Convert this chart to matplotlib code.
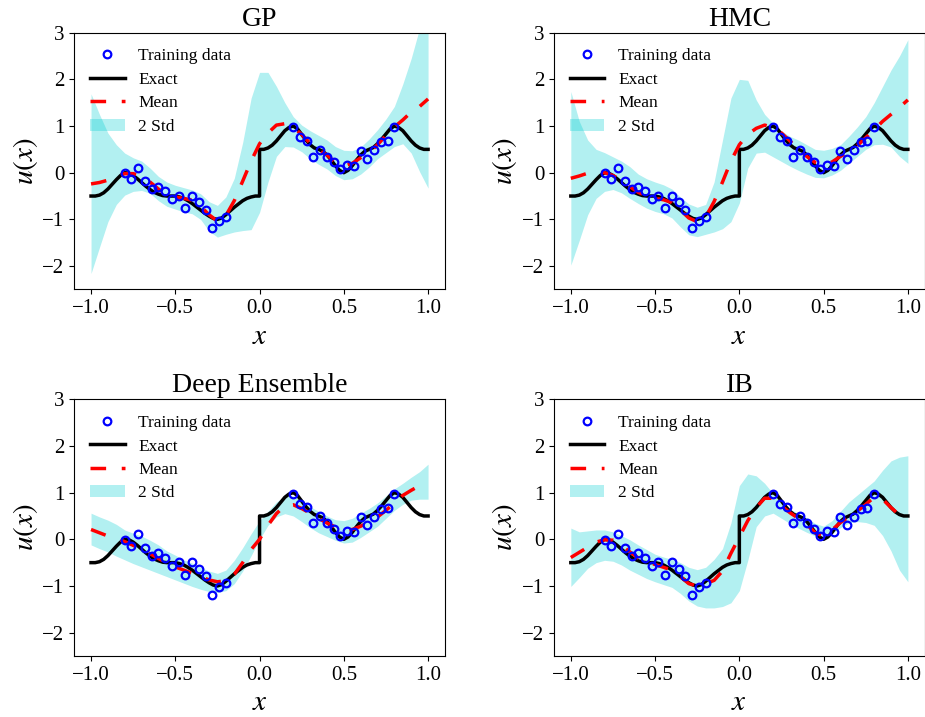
import matplotlib
matplotlib.use("Agg")
import matplotlib.pyplot as plt
import numpy as np

plt.rcParams["font.family"] = ["Liberation Serif", "DejaVu Serif"]
plt.rcParams["mathtext.fontset"] = "stix"

# ── training data (shared) ───────────────────────────────────────────────
x_train = [-0.80, -0.76, -0.72, -0.68, -0.64, -0.60, -0.56, -0.52,
           -0.48, -0.44, -0.40, -0.36, -0.32, -0.28, -0.24, -0.20,
           0.20, 0.24, 0.28, 0.32, 0.36, 0.40, 0.44, 0.48,
           0.52, 0.56, 0.60, 0.64, 0.68, 0.72, 0.76, 0.80]
y_train = [-0.01, -0.14, 0.11, -0.18, -0.35, -0.30, -0.39, -0.57,
           -0.49, -0.76, -0.49, -0.63, -0.79, -1.19, -1.03, -0.94,
           0.97, 0.76, 0.69, 0.34, 0.49, 0.34, 0.22, 0.07,
           0.17, 0.15, 0.47, 0.30, 0.48, 0.66, 0.67, 0.97]

# ── exact solution ──────────────────────────────────────────────────────
x_exact = [-1.0, -0.975, -0.95, -0.925, -0.9, -0.875, -0.85, -0.825, -0.8,
           -0.775, -0.75, -0.725, -0.7, -0.675, -0.65, -0.625, -0.6, -0.575,
           -0.55, -0.525, -0.5, -0.475, -0.45, -0.425, -0.4, -0.375, -0.35,
           -0.325, -0.3, -0.275, -0.25, -0.225, -0.2, -0.175, -0.15, -0.125,
           -0.1, -0.075, -0.05, -0.025, 0.0,
           0.0, 0.025, 0.05, 0.075, 0.1, 0.125, 0.15, 0.175, 0.2, 0.225,
           0.25, 0.275, 0.3, 0.325, 0.35, 0.375, 0.4, 0.425, 0.45, 0.475,
           0.5, 0.525, 0.55, 0.575, 0.6, 0.625, 0.65, 0.675, 0.7, 0.725,
           0.75, 0.775, 0.8, 0.825, 0.85, 0.875, 0.9, 0.925, 0.95, 0.975, 1.0]
u_exact = [-0.5, -0.5, -0.48, -0.43, -0.35, -0.25, -0.15, -0.06, 0.0,
           -0.01, -0.06, -0.13, -0.21, -0.29, -0.36, -0.42, -0.46, -0.49,
           -0.5, -0.5, -0.5, -0.52, -0.55, -0.6, -0.66, -0.73, -0.8,
           -0.87, -0.93, -0.98, -1.0, -0.97, -0.9, -0.82, -0.74, -0.67,
           -0.6, -0.55, -0.52, -0.5, -0.5,
           0.5, 0.5, 0.53, 0.59, 0.68, 0.79, 0.9, 0.97, 1.0, 0.94,
           0.82, 0.7, 0.6, 0.53, 0.5, 0.46, 0.38, 0.27, 0.15, 0.05,
           0.0, 0.05, 0.15, 0.27, 0.38, 0.46, 0.5, 0.54, 0.62, 0.72,
           0.83, 0.94, 1.0, 0.97, 0.9, 0.79, 0.68, 0.59, 0.53, 0.5, 0.5]

# ── predictions, sampled every 0.05 ─────────────────────────────────────
x_pred = [-1.0, -0.95, -0.9, -0.85, -0.8, -0.75, -0.7, -0.65, -0.6, -0.55,
          -0.5, -0.45, -0.4, -0.35, -0.3, -0.25, -0.2, -0.15, -0.1, -0.05,
          0.0, 0.05, 0.1, 0.15, 0.2, 0.25, 0.3, 0.35, 0.4, 0.45,
          0.5, 0.55, 0.6, 0.65, 0.7, 0.75, 0.8, 0.85, 0.9, 0.95, 1.0]

gp_mean = [-0.24, -0.21, -0.16, -0.08, -0.02, -0.02, -0.07, -0.2, -0.35, -0.47,
           -0.52, -0.55, -0.59, -0.72, -0.9, -1.04, -0.92, -0.6, -0.18, 0.25,
           0.62, 0.85, 1.02, 1.05, 0.97, 0.82, 0.63, 0.48, 0.38, 0.22,
           0.14, 0.2, 0.32, 0.43, 0.6, 0.8, 0.98, 1.13, 1.3, 1.42, 1.58]
gp_upper = [1.69, 1.25, 0.85, 0.6, 0.42, 0.32, 0.25, 0.1, -0.08, -0.2,
            -0.27, -0.32, -0.37, -0.45, -0.62, -0.7, -0.52, -0.12, 0.65, 1.6,
            2.15, 2.15, 1.85, 1.5, 1.2, 1.02, 0.9, 0.8, 0.7, 0.56,
            0.48, 0.47, 0.55, 0.72, 0.92, 1.15, 1.42, 1.9, 2.45, 3.1, 3.6]
gp_lower = [-2.16, -1.6, -1.05, -0.68, -0.48, -0.4, -0.38, -0.44, -0.6, -0.72,
            -0.78, -0.84, -0.88, -1.0, -1.25, -1.38, -1.32, -1.27, -1.24, -1.22,
            -0.85, -0.2, 0.35, 0.56, 0.55, 0.45, 0.3, 0.18, 0.08, -0.06,
            -0.15, -0.13, -0.03, 0.12, 0.3, 0.43, 0.56, 0.62, 0.42, 0.02, -0.33]

hmc_mean = [-0.12, -0.07, -0.01, 0.01, 0.0, -0.06, -0.16, -0.3, -0.42, -0.5,
            -0.55, -0.58, -0.64, -0.8, -0.97, -1.05, -0.95, -0.62, -0.2, 0.25,
            0.6, 0.82, 0.95, 1.02, 0.97, 0.85, 0.68, 0.5, 0.35, 0.22,
            0.16, 0.23, 0.35, 0.45, 0.58, 0.75, 0.92, 1.1, 1.25, 1.4, 1.56]
hmc_upper = [1.74, 1.1, 0.7, 0.5, 0.43, 0.34, 0.25, 0.13, -0.03, -0.13,
             -0.2, -0.26, -0.35, -0.52, -0.67, -0.74, -0.68, -0.2, 0.7, 1.6,
             2.0, 1.98, 1.56, 1.25, 1.06, 0.9, 0.78, 0.7, 0.6, 0.5,
             0.48, 0.52, 0.6, 0.78, 0.98, 1.2, 1.5, 1.85, 2.2, 2.5, 2.85]
hmc_lower = [-1.98, -1.45, -0.9, -0.55, -0.4, -0.36, -0.43, -0.55, -0.66, -0.76,
             -0.83, -0.88, -0.97, -1.16, -1.33, -1.37, -1.32, -1.27, -1.2, -1.05,
             -0.65, 0.1, 0.42, 0.44, 0.34, 0.24, 0.14, 0.05, -0.03, -0.1,
             -0.11, -0.05, 0.05, 0.2, 0.35, 0.5, 0.6, 0.61, 0.55, 0.35, 0.2]

de_mean = [0.21, 0.14, 0.07, 0.02, -0.05, -0.13, -0.22, -0.31, -0.41, -0.5,
           -0.59, -0.66, -0.73, -0.8, -0.87, -0.91, -0.89, -0.75, -0.5, -0.22,
           0.0, 0.3, 0.55, 0.72, 0.74, 0.66, 0.56, 0.45, 0.35, 0.26,
           0.2, 0.21, 0.28, 0.37, 0.48, 0.62, 0.78, 0.94, 1.05, 1.15, 1.24]
de_upper = [0.56, 0.48, 0.41, 0.32, 0.2, 0.13, 0.07, -0.02, -0.12, -0.25,
            -0.34, -0.44, -0.51, -0.6, -0.68, -0.73, -0.66, -0.45, -0.18, 0.12,
            0.4, 0.6, 0.8, 0.92, 0.93, 0.83, 0.7, 0.6, 0.5, 0.42,
            0.4, 0.45, 0.56, 0.66, 0.78, 0.93, 1.08, 1.2, 1.33, 1.45, 1.61]
de_lower = [-0.12, -0.2, -0.27, -0.36, -0.44, -0.52, -0.59, -0.66, -0.73, -0.8,
            -0.87, -0.94, -1.01, -1.07, -1.12, -1.14, -1.1, -0.95, -0.68, -0.35,
            0.0, 0.3, 0.48, 0.55, 0.5, 0.38, 0.25, 0.14, 0.06, -0.02,
            -0.08, -0.06, 0.04, 0.16, 0.28, 0.45, 0.62, 0.75, 0.84, 0.86, 0.86]

ib_mean = [-0.39, -0.28, -0.17, -0.06, -0.01, -0.02, -0.12, -0.27, -0.4, -0.48,
           -0.54, -0.6, -0.66, -0.8, -0.95, -1.0, -0.95, -0.88, -0.68, -0.3,
           0.05, 0.4, 0.68, 0.88, 0.88, 0.72, 0.57, 0.45, 0.32, 0.14,
           0.07, 0.2, 0.36, 0.48, 0.6, 0.75, 0.9, 0.86, 0.68, 0.52, 0.45]
ib_upper = [0.24, 0.16, 0.18, 0.2, 0.2, 0.16, 0.08, -0.01, -0.12, -0.22,
            -0.32, -0.38, -0.43, -0.5, -0.6, -0.65, -0.6, -0.43, -0.2, 0.35,
            1.15, 1.4, 1.36, 1.2, 0.98, 0.8, 0.65, 0.55, 0.46, 0.34,
            0.28, 0.4, 0.6, 0.8, 0.95, 1.1, 1.25, 1.48, 1.68, 1.76, 1.79]
ib_lower = [-1.01, -0.82, -0.62, -0.5, -0.45, -0.47, -0.55, -0.66, -0.75, -0.84,
            -0.91, -0.97, -1.03, -1.16, -1.32, -1.43, -1.47, -1.47, -1.44, -1.36,
            -1.1, -0.45, 0.27, 0.5, 0.56, 0.45, 0.34, 0.24, 0.15, 0.07,
            0.06, 0.12, 0.25, 0.35, 0.38, 0.36, 0.3, 0.08, -0.25, -0.66, -0.91]

titles = ["GP", "HMC", "Deep Ensemble", "IB"]
means = [gp_mean, hmc_mean, de_mean, ib_mean]
uppers = [gp_upper, hmc_upper, de_upper, ib_upper]
lowers = [gp_lower, hmc_lower, de_lower, ib_lower]

# axes boxes in figure fractions (left, bottom, width, height)
positions = [
    [0.0802, 0.5964, 0.4008, 0.358],
    [0.5989, 0.5964, 0.4008, 0.358],
    [0.0802, 0.0851, 0.4008, 0.358],
    [0.5989, 0.0851, 0.4008, 0.358],
]

fig = plt.figure(figsize=(9.25, 7.17), dpi=100)

for title, mean, up, lo, pos in zip(titles, means, uppers, lowers, positions):
    ax = fig.add_axes(pos)
    ax.plot(x_train, y_train, "o", color="blue", mfc="none", ms=5.5, mew=1.6,
            label="Training data", zorder=4)
    ax.plot(x_exact, u_exact, "-", color="black", lw=2.5, label="Exact", zorder=3)
    ax.plot(x_pred, mean, "--", color="red", lw=2.5, dashes=(4.5, 4.5),
            label="Mean", zorder=3)
    ax.fill_between(x_pred, lo, up, color="darkturquoise", alpha=0.3,
                    lw=0, label="2 Std", zorder=1)
    ax.set_xlim(-1.1, 1.1)
    ax.set_ylim(-2.5, 3)
    ax.set_xticks([-1.0, -0.5, 0.0, 0.5, 1.0])
    ax.set_yticks([-2, -1, 0, 1, 2, 3])
    ax.tick_params(labelsize=15)
    ax.set_xlabel("$x$", fontsize=21, labelpad=4)
    ax.set_ylabel("$u(x)$", fontsize=21, labelpad=2)
    ax.set_title(title, fontsize=20, pad=5)
    ax.legend(loc="upper left", frameon=False, fontsize=12.5, labelspacing=0.42)

fig.savefig("out.png", dpi=100)
